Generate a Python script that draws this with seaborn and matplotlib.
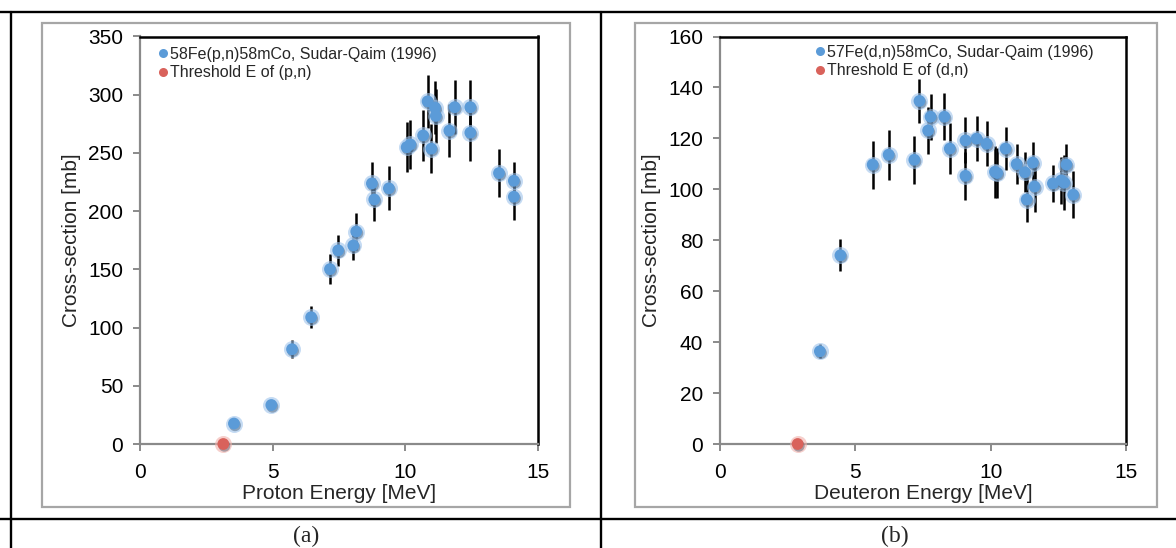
import numpy as np
import pandas as pd
import matplotlib
matplotlib.use("Agg")
import matplotlib.pyplot as plt
import matplotlib.patheffects as pe
from matplotlib.lines import Line2D
from matplotlib.patches import Rectangle
import seaborn as sns

sns.set_style("white")
plt.rcParams['font.family'] = ['Liberation Sans', 'DejaVu Sans']

# --- (a) 58Fe(p,n)58mCo, Sudar-Qaim (1996) ---
p_energy = [3.54, 4.95, 5.73, 6.45, 7.16, 7.47, 8.04, 8.15, 8.74, 8.83, 9.38,
            10.05, 10.19, 10.67, 10.84, 10.98, 11.12, 11.15, 11.66, 11.86,
            12.45, 12.45, 13.53, 14.09, 14.09]
p_xs = [17.6, 33.5, 81.4, 108.9, 150.2, 166.3, 170.5, 182.5, 223.8, 210.0, 219.6,
        254.9, 257.3, 265.0, 294.3, 253.7, 289.0, 281.8, 269.2, 289.3,
        289.3, 267.4, 232.7, 226.1, 212.4]
p_err = [2, 3, 7.5, 9.6, 13, 13, 12.5, 15.5, 18.5, 18.5, 19,
         21.5, 21, 22, 22.7, 21, 23, 23, 23, 23,
         23, 24.5, 20.3, 16, 20]
p_thr_energy = [3.14]
p_thr_xs = [0]

# --- (b) 57Fe(d,n)58mCo, Sudar-Qaim (1996) ---
d_energy = [3.69, 4.45, 5.64, 6.23, 7.18, 7.37, 7.69, 7.78, 8.29, 8.49, 9.07, 9.07,
            9.48, 9.85, 10.16, 10.24, 10.55, 10.96, 11.26, 11.33, 11.56, 11.62,
            12.30, 12.61, 12.72, 12.80, 13.05]
d_xs = [36.4, 74.1, 109.7, 113.6, 111.6, 134.7, 123.1, 128.5, 128.5, 116.0, 119.2, 105.3,
        119.9, 117.9, 106.9, 106.4, 116.0, 109.9, 106.7, 96.0, 110.5, 101.1,
        102.3, 103.5, 102.6, 109.7, 97.9]
d_err = [2.7, 6.2, 9.4, 9.8, 9.4, 8.5, 9.3, 9.0, 9.3, 10, 9.0, 9.3,
         8.9, 8.9, 10.3, 10, 8.3, 7.8, 7.8, 9.0, 8.2, 10,
         7.4, 9.2, 10.7, 8.2, 9.3]
d_thr_energy = [2.87]
d_thr_xs = [0]

blue = '#5b9bd8'
glow = '#9fc4ec'
red = '#d9625b'

fig = plt.figure(figsize=(11.76, 5.48), dpi=100)
W, H = 1176, 548


def fx(px):
    return px / W


def fy(py):
    return 1 - py / H


# table lines and grey chart frames
for x0, y0, x1, y1 in [(0, 12.3, 1176, 12.3), (11, 12.3, 11, 548), (601, 12.3, 601, 548),
                       (0, 519.3, 1176, 519.3)]:
    fig.add_artist(Line2D([fx(x0), fx(x1)], [fy(y0), fy(y1)], color='black', lw=1.7,
                          transform=fig.transFigure))
for x0, x1 in [(41.7, 570), (635, 1157)]:
    fig.add_artist(Rectangle((fx(x0), fy(507)), fx(x1 - x0), (507 - 23.3) / H, fill=False,
                             ec='#a6a6a6', lw=1.6, transform=fig.transFigure))

ax1 = fig.add_axes([fx(140), fy(444), fx(398), 407.5 / H])
ax2 = fig.add_axes([fx(720), fy(444), fx(406), 407.5 / H])


def draw_panel(ax, energy, xs, err, thr_e, thr_xs, ymax, ystep, xlabel, lab_main, lab_thr, leg_x, leg_y):
    df = pd.DataFrame({'E': energy, 'xs': xs, 'err': err})
    thr = pd.DataFrame({'E': thr_e, 'xs': thr_xs})
    ax.errorbar(df['E'], df['xs'], yerr=df['err'], fmt='none', ecolor='black',
                elinewidth=1.8, capsize=0, zorder=2)
    shadow = [pe.SimplePatchShadow(offset=(0.8, -1.3), shadow_rgbFace='#1a3550', alpha=0.35), pe.Normal()]
    sns.scatterplot(data=df, x='E', y='xs', s=150, color=glow, alpha=0.6, linewidth=0,
                    ax=ax, zorder=3, legend=False)
    sns.scatterplot(data=df, x='E', y='xs', s=72, color=blue, linewidth=0,
                    ax=ax, zorder=4, legend=False)
    sns.scatterplot(data=thr, x='E', y='xs', s=150, color='#f0b0aa', alpha=0.6, linewidth=0,
                    ax=ax, zorder=3, legend=False)
    sns.scatterplot(data=thr, x='E', y='xs', s=72, color=red, linewidth=0,
                    ax=ax, zorder=4, legend=False)
    for coll in ax.collections[-3::2]:
        coll.set_path_effects(shadow)
    for coll in ax.collections:
        coll.set_clip_on(False)

    ax.set_xlim(0, 15)
    ax.set_ylim(0, ymax)
    ax.set_xticks(np.arange(0, 16, 5))
    ax.set_yticks(np.arange(0, ymax + 1, ystep))
    ax.set_xlabel(xlabel, fontsize=15, labelpad=1)
    ax.set_ylabel('Cross-section [mb]', fontsize=15, labelpad=5)
    ax.grid(False)
    for side in ['left', 'bottom']:
        ax.spines[side].set_color('#8a8a8a')
        ax.spines[side].set_linewidth(1.6)
    for side in ['top', 'right']:
        ax.spines[side].set_color('black')
        ax.spines[side].set_linewidth(1.8)
    ax.tick_params(axis='both', which='major', direction='out', length=5, width=1.4,
                   color='#8a8a8a', labelsize=15, labelcolor='black')
    ax.tick_params(axis='x', pad=9, bottom=True)
    ax.tick_params(axis='y', pad=7, left=True)

    handles = [Line2D([], [], ls='', marker='o', markersize=6.5, color=blue, mec='none'),
               Line2D([], [], ls='', marker='o', markersize=6.5, color=red, mec='none')]
    ax.legend(handles, [lab_main, lab_thr], loc='upper left', bbox_to_anchor=(leg_x, leg_y),
              frameon=False, fontsize=11.5, handlelength=0.6, handletextpad=0.15,
              borderpad=0, borderaxespad=0, labelspacing=0.22)


draw_panel(ax1, p_energy, p_xs, p_err, p_thr_energy, p_thr_xs, 350, 50,
           'Proton Energy [MeV]', '58Fe(p,n)58mCo, Sudar-Qaim (1996)', 'Threshold E of (p,n)',
           0.045, 0.975)
draw_panel(ax2, d_energy, d_xs, d_err, d_thr_energy, d_thr_xs, 160, 20,
           'Deuteron Energy [MeV]', '57Fe(d,n)58mCo, Sudar-Qaim (1996)', 'Threshold E of (d,n)',
           0.234, 0.98)

fig.text(fx(306), fy(542), '(a)', family=['Liberation Serif', 'DejaVu Serif'], fontsize=17,
         ha='center', va='baseline')
fig.text(fx(895), fy(542), '(b)', family=['Liberation Serif', 'DejaVu Serif'], fontsize=17,
         ha='center', va='baseline')

fig.savefig('out.png', dpi=100)
